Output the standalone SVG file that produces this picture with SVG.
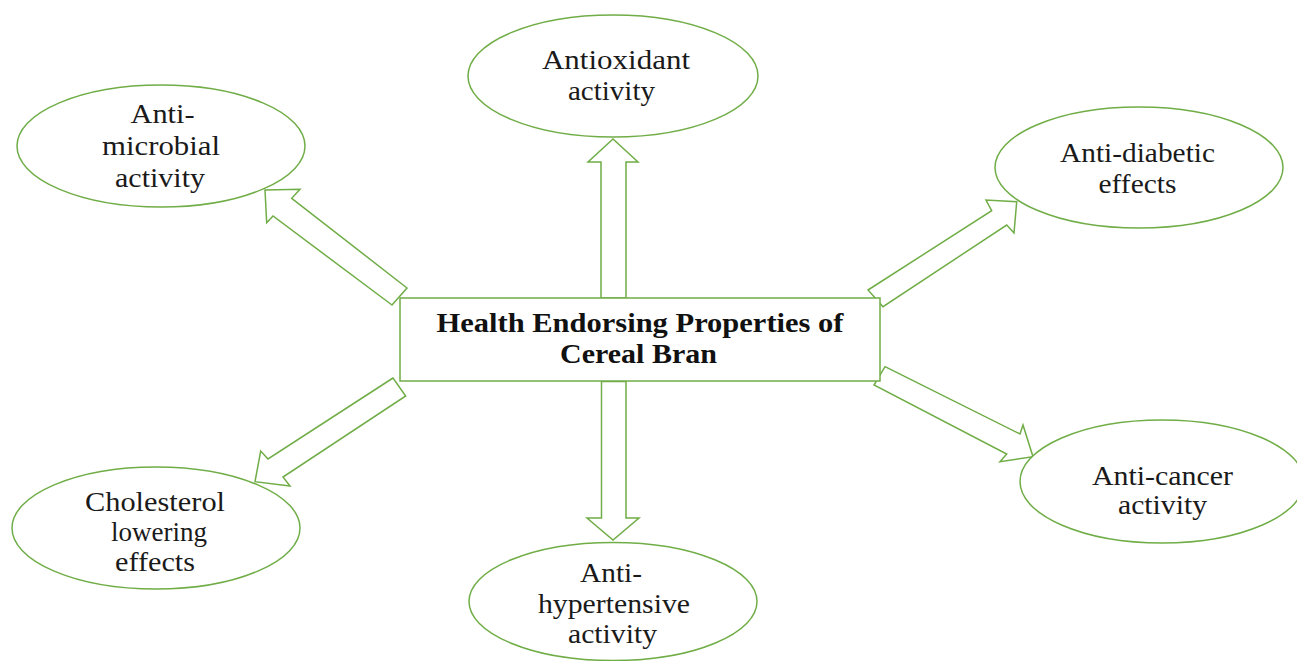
<svg xmlns="http://www.w3.org/2000/svg" width="1297" height="661" viewBox="0 0 1297 661">
<style>
.bg{fill:#ffffff}
.shape{fill:#ffffff;stroke:#70AD47;stroke-width:1.5}
.arrow{fill:#ffffff;stroke:#70AD47;stroke-width:1.5;stroke-linejoin:miter}
.lbl{font-family:"Liberation Serif","Times New Roman",serif;font-size:28px;fill:#1a1a1a;text-anchor:middle}
.title{font-family:"Liberation Serif","Times New Roman",serif;font-size:27px;font-weight:bold;fill:#111111;text-anchor:middle}
</style>
<rect class="bg" x="0" y="0" width="1297" height="661"/>
<g id="connectors">
<polygon class="arrow" points="601,298 601,162 588,162 613,139 638,162 626,162 626,298"/>
<polygon class="arrow" points="601.5,381.5 601.5,518 587,518 613,540 639,518 626,518 626,381.5"/>
<polygon class="arrow" points="392,305 273,216 266.7,222.7 265,190 300,189.3 291.7,198.3 407,288"/>
<polygon class="arrow" points="868,290 991.7,210.7 986,200 1016.7,201.7 1014,233 1006.7,225 883,306.7"/>
<polygon class="arrow" points="393,378 268,459 260.7,451 255,481.7 290,486 283,477 405.7,396"/>
<polygon class="arrow" points="885,366.7 1020,434 1023,425 1033,456.7 1000,461.7 1006.7,454 874,385"/>
</g>
<g id="center">
<rect class="shape" x="400" y="298" width="480" height="83"/>
<text class="title" x="640" y="332" textLength="407" lengthAdjust="spacingAndGlyphs">Health Endorsing Properties of</text>
<text class="title" x="638.5" y="363" textLength="157" lengthAdjust="spacingAndGlyphs">Cereal Bran</text>
</g>
<g id="antioxidant">
<ellipse class="shape" cx="613" cy="76" rx="145" ry="61"/>
<text class="lbl" x="616" y="69" textLength="148" lengthAdjust="spacingAndGlyphs">Antioxidant</text>
<text class="lbl" x="611.5" y="100" textLength="87" lengthAdjust="spacingAndGlyphs">activity</text>
</g>
<g id="antimicrobial">
<ellipse class="shape" cx="161" cy="146" rx="144" ry="61"/>
<text class="lbl" x="162.5" y="123" textLength="64" lengthAdjust="spacingAndGlyphs">Anti-</text>
<text class="lbl" x="161" y="155" textLength="118" lengthAdjust="spacingAndGlyphs">microbial</text>
<text class="lbl" x="160" y="187" textLength="90" lengthAdjust="spacingAndGlyphs">activity</text>
</g>
<g id="antidiabetic">
<ellipse class="shape" cx="1139" cy="167.5" rx="144" ry="60.5"/>
<text class="lbl" x="1137.5" y="162" textLength="155" lengthAdjust="spacingAndGlyphs">Anti-diabetic</text>
<text class="lbl" x="1137.5" y="193" textLength="78" lengthAdjust="spacingAndGlyphs">effects</text>
</g>
<g id="cholesterol">
<ellipse class="shape" cx="156" cy="528" rx="144" ry="61"/>
<text class="lbl" x="155" y="511" textLength="140" lengthAdjust="spacingAndGlyphs">Cholesterol</text>
<text class="lbl" x="159" y="541" textLength="96" lengthAdjust="spacingAndGlyphs">lowering</text>
<text class="lbl" x="155" y="571" textLength="80" lengthAdjust="spacingAndGlyphs">effects</text>
</g>
<g id="antihypertensive">
<ellipse class="shape" cx="613" cy="601.5" rx="144" ry="59"/>
<text class="lbl" x="611" y="582" textLength="62" lengthAdjust="spacingAndGlyphs">Anti-</text>
<text class="lbl" x="614" y="613" textLength="152" lengthAdjust="spacingAndGlyphs">hypertensive</text>
<text class="lbl" x="612.5" y="643" textLength="89" lengthAdjust="spacingAndGlyphs">activity</text>
</g>
<g id="anticancer">
<ellipse class="shape" cx="1162" cy="481.5" rx="142" ry="61.5"/>
<text class="lbl" x="1162.5" y="485" textLength="141" lengthAdjust="spacingAndGlyphs">Anti-cancer</text>
<text class="lbl" x="1162.5" y="514" textLength="89" lengthAdjust="spacingAndGlyphs">activity</text>
</g>
</svg>
